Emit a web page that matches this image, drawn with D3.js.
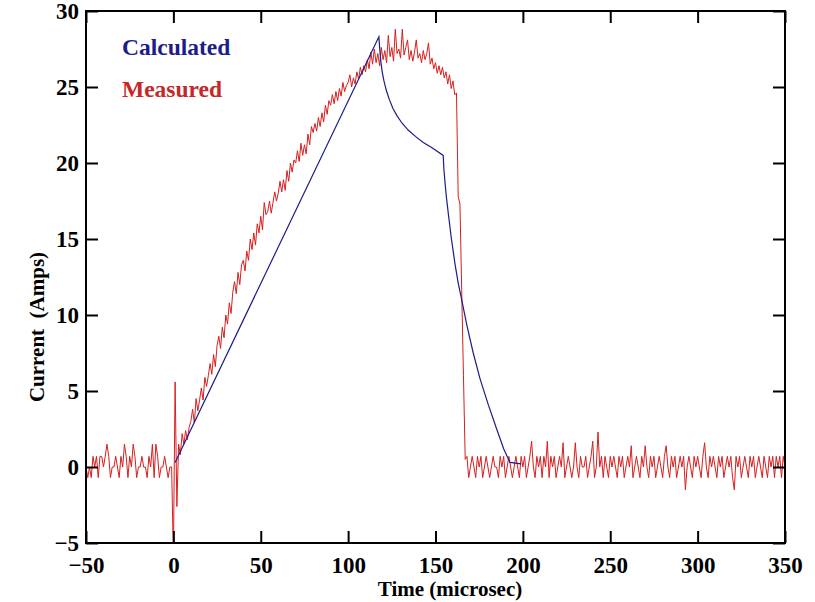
<!DOCTYPE html>
<html>
<head>
<meta charset="utf-8">
<script src="https://cdn.jsdelivr.net/npm/d3@7"></script>
<style>
  body { margin: 0; background: #fff; }
  svg text { font-family: "Liberation Serif", "Times New Roman", serif; font-weight: bold; }
</style>
</head>
<body>
<div class="chart"></div>
<script>
var width = 815;
var height = 602;
var margin = {top: 11, right: 30, bottom: 59, left: 86};

var xTicks = [-50, 0, 50, 100, 150, 200, 250, 300, 350];
var yTicks = [-5, 0, 5, 10, 15, 20, 25, 30];

// calculated current (blue)
var calcTime    = [1, 117.6, 117.9, 118.3, 118.8, 119.5, 120.5, 121.8, 123.5, 125.6, 128, 131, 134.5, 138.5, 143, 148, 154.4,
                   154.8, 155.3, 156.2, 157.3, 159, 161.1, 163, 165, 168, 171.6, 175.5, 180.2, 185, 189, 192.6, 199];
var calcCurrent = [0.3, 28.3, 27.8, 27.2, 26.6, 26.0, 25.4, 24.8, 24.2, 23.6, 23.1, 22.6, 22.15, 21.75, 21.35, 21.0, 20.5,
                   19.6, 18.9, 17.8, 16.7, 15.1, 13.4, 12.1, 11.0, 9.3, 7.5, 5.8, 4.1, 2.5, 1.2, 0.3, 0.2];

// measured current (red), one sample per microsec from -50 to 350
var measuredStart = -50;
var measuredCurrent = [
  // -50 .. -1
  0, -0.7, 0, -0.7, 0.7, 0, 0.7, -0.7, 0.7, 0.7,
  0, 0.7, 1.5, 0.7, -0.7, 0, 0, 0.7, 0, -0.7,
  0.7, 0, 1.5, 0.7, -0.7, 0.7, 0, 1.5, 0.7, -0.7,
  0, 0, 0.7, 0, 0, -0.7, 0.7, 0, 1.5, -0.7,
  1.5, 0.7, -0.7, 0, 0, 0.7, 0, -0.7, 0, 0,
  // 0 .. 2 (switching spike)
  -6, 5.6, -2.6,
  // 3 .. 9
  1.5, 0.8, 2.2, 1.5, 2.4, 1.8, 2.6,
  // 10 .. 159
  3.0, 3.8, 2.9, 4.5, 3.7, 4.4, 5.2, 4.4, 5.9, 5.3,
  6.0, 6.8, 6.1, 7.4, 6.6, 8.0, 8.6, 7.8, 9.2, 8.5,
  10.0, 9.4, 10.8, 10.1, 11.5, 12.2, 11.4, 12.8, 12.0, 13.3,
  13.6, 12.9, 14.2, 13.6, 15.0, 14.3, 15.4, 14.6, 16.0, 15.4,
  16.5, 15.6, 17.4, 16.6, 16.8, 17.5, 16.7, 17.4, 18.1, 17.5,
  18.0, 18.8, 18.1, 18.9, 18.2, 19.5, 18.8, 20.0, 19.4, 20.2,
  20.0, 20.8, 20.1, 21.3, 20.5, 21.2, 20.6, 21.9, 21.2, 22.4,
  22.0, 22.6, 22.1, 23.0, 22.4, 23.3, 22.7, 23.8, 23.2, 24.1,
  23.8, 24.5, 23.9, 24.7, 24.1, 24.9, 24.4, 25.3, 24.7, 25.1,
  25.3, 25.8, 25.0, 25.6, 25.2, 26.0, 25.5, 26.3, 25.8, 26.4,
  26.0, 26.8, 26.2, 27.3, 26.5, 27.5, 26.6, 27.2, 26.4, 27.6,
  26.8, 27.4, 26.6, 28.4, 27.0, 27.6, 26.7, 28.8, 27.2, 27.5,
  26.9, 28.8, 27.1, 27.6, 28.1, 26.8, 27.4, 26.7, 27.3, 28.1,
  26.9, 27.2, 26.6, 27.4, 26.8, 27.2, 27.9, 26.5, 26.9, 26.2,
  26.6, 25.9, 26.4, 25.8, 26.3, 25.6, 26.0, 25.2, 25.8, 24.9,
  // 160 .. 167 (turn off)
  25.4, 24.5, 24.6, 17.8, 17.3, 11.6, 6.0, 0.5,
  // 168 .. 350
  0.7, -0.7, 0, 0.7, 0, -0.7, 0.7, 0, 0.7, -0.7,
  0, 0.7, 0, -0.7, 0, 0.7, 0, 0, -0.7, 0.7,
  0, 0.7, -0.7, 0, 0.7, 0, -0.7, 0, 0.7, 0,
  -0.7, 0.7, 0, 0.7, -0.7, 0, 0.7, 1.7, 0, -0.7,
  0.7, 0, 0.7, -0.7, 0.7, 0, 1.7, -0.7, 0.7, 0,
  0.7, -0.7, 0, 0.7, 0, 1.6, -0.7, 0, 0.7, 0,
  -0.7, 0, 1.6, 0, -0.7, 0.7, 0, 0, 0.7, -0.7,
  0, 0.7, 1.7, -0.7, 0, 2.3, 0, 0.7, -0.7, 0.7,
  0, -0.7, 0.7, 0, 0.7, 0, -0.7, 0.7, 0, 0.7,
  -0.7, 0, 0.7, 0, 1.4, -0.7, 0, 0.7, 0, -0.7,
  0.7, 0, 1.4, 0, -0.7, 0.7, 0, 0.7, -0.7, 0,
  0.7, 0, -0.7, 0.7, 1.4, 0, -0.7, 0.7, 0, 0.7,
  -0.7, 0, 0.7, 0, 0.7, -1.5, 0, 0.7, 0, -0.7,
  0.7, 0, 0.7, 0, -0.7, 0.7, 1.6, 0, -0.7, 0.7,
  0, 0.7, 0, -0.7, 0.7, 0, 0.7, -0.7, 0, 0.7,
  0, 0.7, -0.7, -1.5, 0.7, 0, 0.7, -0.7, 0, 0.7,
  0, -0.7, 0.7, 0, 0.7, -0.7, 0, 0.7, 0, -0.7,
  0.7, 0, -0.7, 0.7, 0, 0.7, -0.7, 0.7, 0, 0.7,
  -0.7, 0.7, 0
];

var calcColor = "#1c1c8a";
var measColor = "#d81e1e";

var innerW = width - margin.left - margin.right;
var innerH = height - margin.top - margin.bottom;

var x = d3.scaleLinear().domain([-50, 350]).range([0, innerW]);
var y = d3.scaleLinear().domain([-5, 30]).range([innerH, 0]);

var svg = d3.select(".chart")
    .append("svg")
    .attr("width", width)
    .attr("height", height)
    .append("g")
    .attr("transform", "translate(" + margin.left + "," + margin.top + ")");

svg.append("clipPath").attr("id", "plotclip")
    .append("rect").attr("width", innerW).attr("height", innerH);

var measured = measuredCurrent.map(function(v, i) { return {t: measuredStart + i, v: v}; });
var calculated = calcTime.map(function(t, i) { return {t: t, v: calcCurrent[i]}; });

var line = d3.line()
    .x(function(d) { return x(d.t); })
    .y(function(d) { return y(d.v); });

var plot = svg.append("g").attr("clip-path", "url(#plotclip)");

plot.append("path")
    .datum(measured)
    .attr("d", line)
    .attr("fill", "none")
    .attr("stroke", measColor)
    .attr("stroke-width", 1);

plot.append("path")
    .datum(calculated)
    .attr("d", line)
    .attr("fill", "none")
    .attr("stroke", calcColor)
    .attr("stroke-width", 1.2);

// axes, ticks pointing inward on all four sides
var tickLen = 12;
function styleAxis(g) {
    g.select(".domain").remove();
    g.selectAll(".tick line").attr("stroke", "#000").attr("stroke-width", 2);
    g.selectAll(".tick text").attr("fill", "#000").style("font-size", "23px");
}

svg.append("g")
    .attr("transform", "translate(0," + innerH + ")")
    .call(d3.axisBottom(x).tickValues(xTicks).tickSize(-tickLen).tickPadding(14).tickFormat(d3.format("d")))
    .call(styleAxis);

svg.append("g")
    .call(d3.axisTop(x).tickValues(xTicks).tickSize(-tickLen).tickFormat(""))
    .call(styleAxis);

svg.append("g")
    .call(d3.axisLeft(y).tickValues(yTicks).tickSize(-tickLen).tickPadding(7).tickFormat(d3.format("d")))
    .call(styleAxis);

svg.append("g")
    .attr("transform", "translate(" + innerW + ",0)")
    .call(d3.axisRight(y).tickValues(yTicks).tickSize(-tickLen).tickFormat(""))
    .call(styleAxis);

svg.append("rect")
    .attr("width", innerW)
    .attr("height", innerH)
    .attr("fill", "none")
    .attr("stroke", "#000")
    .attr("stroke-width", 2);

// legend
svg.append("text")
    .attr("x", 36).attr("y", 44)
    .attr("fill", calcColor)
    .style("font-size", "23.5px")
    .text("Calculated");

svg.append("text")
    .attr("x", 36).attr("y", 86)
    .attr("fill", "#c62828")
    .style("font-size", "23.5px")
    .text("Measured");

// axis titles
svg.append("text")
    .attr("x", 450 - margin.left)
    .attr("y", innerH + 53)
    .attr("text-anchor", "middle")
    .style("font-size", "21px")
    .text("Time (microsec)");

svg.append("text")
    .attr("transform", "translate(-42," + (innerH / 2 + 50) + ") rotate(-90)")
    .attr("text-anchor", "middle")
    .style("font-size", "21px")
    .style("white-space", "pre")
    .text("Current  (Amps)");
</script>
</body>
</html>
